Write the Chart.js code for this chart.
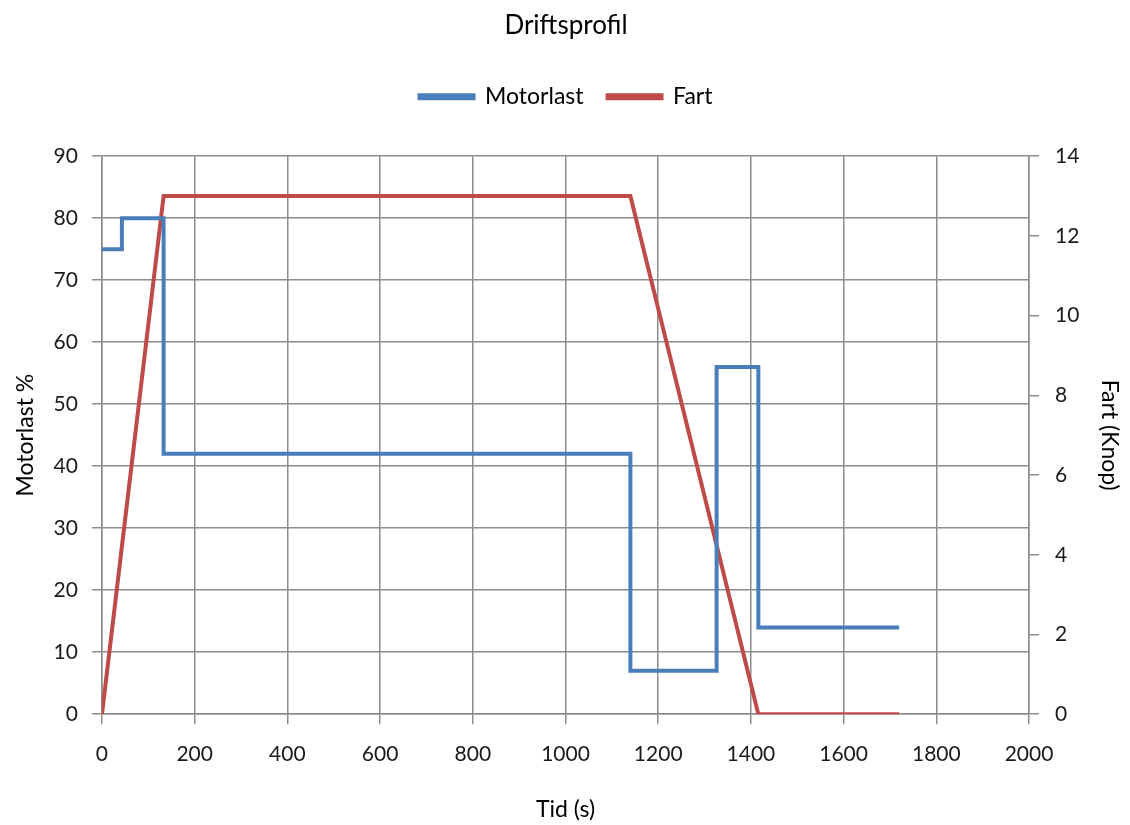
<!DOCTYPE html>
<html>
<head>
<meta charset="utf-8">
<script src="https://cdn.jsdelivr.net/npm/chart.js@4/dist/chart.umd.min.js"></script>
<style>
    html, body { margin: 0; padding: 0; background: #fff; }
    #wrap { width: 1130px; height: 825px; }
</style>
</head>
<body>
<div id="wrap"><canvas id="driftChart"></canvas></div>
<script>
// Motorlast (%) - stepped, value holds until next time point
const motorTid = [0, 43, 133, 1140, 1326, 1416, 1720];
const motorLast = [75, 80, 42, 7, 56, 14, 14];

// Fart (knop)
const fartTid = [0, 133, 1140, 1416, 1720];
const fart = [0, 13, 13, 0, 0];

const xTicks = [0, 200, 400, 600, 800, 1000, 1200, 1400, 1600, 1800, 2000];

const textColor = '#1a1a1a';
const gridColor = '#8c8c8c';
const fontFamily = 'Lato, "Open Sans", sans-serif';

function toPoints(xs, ys) {
    return xs.map((x, i) => ({ x: x, y: ys[i] }));
}

// extra space under the legend, like the original
const legendGap = {
    id: 'legendGap',
    beforeInit(chart) {
        const fit = chart.legend.fit;
        chart.legend.fit = function () {
            fit.bind(chart.legend)();
            this.height += 38;
        };
    }
};

document.addEventListener("DOMContentLoaded", function () {
    const ctx = document.getElementById("driftChart");

    new Chart(ctx, {
        type: 'line',
        plugins: [legendGap],
        data: {
            datasets: [
                {
                    label: 'Motorlast',
                    data: toPoints(motorTid, motorLast),
                    borderColor: '#4a7ebb',
                    backgroundColor: '#4a7ebb',
                    borderWidth: 4,
                    stepped: 'before',
                    pointRadius: 0,
                    yAxisID: 'y'
                },
                {
                    label: 'Fart',
                    data: toPoints(fartTid, fart),
                    borderColor: '#be4b48',
                    backgroundColor: '#be4b48',
                    borderWidth: 4,
                    pointRadius: 0,
                    yAxisID: 'y1'
                }
            ]
        },
        options: {
            responsive: true,
            maintainAspectRatio: false,
            animation: false,
            layout: { padding: { left: 2, right: 0, top: 4, bottom: 0 } },
            plugins: {
                title: {
                    display: true,
                    text: 'Driftsprofil',
                    color: '#000',
                    font: { family: fontFamily, size: 26, weight: 'normal' },
                    padding: { top: 6, bottom: 20 }
                },
                legend: {
                    labels: {
                        color: '#000',
                        font: { family: fontFamily, size: 23 },
                        boxWidth: 54,
                        boxHeight: 3,
                        padding: 24
                    },
                    padding: 0
                },
                tooltip: { enabled: false }
            },
            scales: {
                x: {
                    type: 'linear',
                    min: 0,
                    max: 2000,
                    afterBuildTicks: axis => { axis.ticks = xTicks.map(v => ({ value: v })); },
                    ticks: {
                        color: textColor,
                        font: { family: fontFamily, size: 21 },
                        maxRotation: 0,
                        padding: 17,
                        callback: v => String(v)
                    },
                    grid: { color: gridColor, lineWidth: 1.5, tickLength: 10 },
                    border: { color: gridColor, width: 1.5 },
                    title: {
                        display: true,
                        text: 'Tid (s)',
                        color: '#000',
                        font: { family: fontFamily, size: 23 },
                        padding: { top: 12, bottom: 2 }
                    }
                },
                y: {
                    position: 'left',
                    min: 0,
                    max: 90,
                    ticks: { stepSize: 10, color: textColor, font: { family: fontFamily, size: 21 }, padding: 14 },
                    grid: { color: gridColor, lineWidth: 1.5, tickLength: 10 },
                    border: { color: gridColor, width: 1.5 },
                    title: {
                        display: true,
                        text: 'Motorlast %',
                        color: '#000',
                        font: { family: fontFamily, size: 23 },
                        padding: { top: 10, bottom: 0 }
                    }
                },
                y1: {
                    position: 'right',
                    min: 0,
                    max: 14,
                    ticks: { stepSize: 2, color: textColor, font: { family: fontFamily, size: 21 }, padding: 16 },
                    grid: { drawOnChartArea: false, color: gridColor, lineWidth: 1.5, tickLength: 10 },
                    border: { color: gridColor, width: 1.5 },
                    title: {
                        display: true,
                        text: 'Fart (Knop)',
                        color: '#000',
                        font: { family: fontFamily, size: 23 },
                        padding: { top: 7, bottom: 0 }
                    }
                }
            }
        }
    });
});
</script>
</body>
</html>
